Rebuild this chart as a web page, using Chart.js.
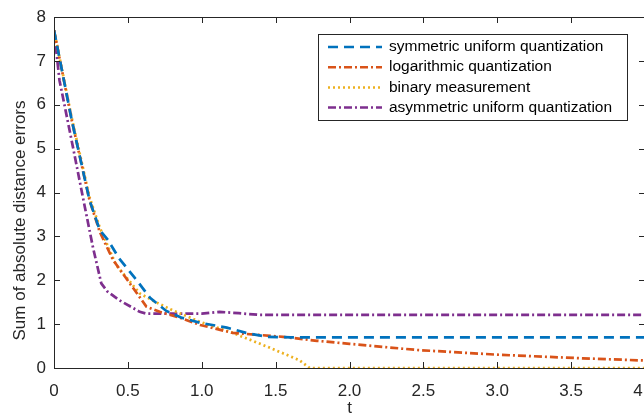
<!DOCTYPE html>
<html>
<head>
<meta charset="utf-8">
<script src="https://cdn.jsdelivr.net/npm/chart.js@4/dist/chart.umd.min.js"></script>
<style>
  html, body { margin: 0; padding: 0; overflow: hidden; background: #fff; }
</style>
</head>
<body>
<canvas id="chart" width="660" height="420"></canvas>
<script>
// Series (t, error)
const symT = [0, 0.12, 0.18, 0.24, 0.31, 0.365, 0.44, 0.56, 0.65, 0.76, 0.86, 0.99, 1.17, 1.3, 1.44, 1.6, 4];
const symV = [7.7, 5.65, 4.74, 3.83, 3.14, 2.92, 2.5, 2.0, 1.6, 1.3, 1.15, 1.03, 0.92, 0.8, 0.71, 0.7, 0.7];

const logT = [0, 0.12, 0.18, 0.24, 0.31, 0.4, 0.53, 0.625, 0.715, 0.85, 0.99, 1.21, 1.55, 1.78, 2.0, 2.46, 3.02, 3.58, 4];
const logV = [7.7, 5.65, 4.74, 3.83, 3.1, 2.46, 1.85, 1.4, 1.28, 1.15, 0.98, 0.8, 0.71, 0.62, 0.55, 0.41, 0.3, 0.22, 0.17];

const binT = [0, 0.12, 0.18, 0.24, 0.31, 0.42, 0.58, 0.69, 0.8, 0.99, 1.21, 1.44, 1.66, 1.73, 4];
const binV = [7.7, 5.7, 4.8, 3.9, 3.2, 2.35, 1.7, 1.5, 1.32, 1.05, 0.8, 0.49, 0.18, 0.0, 0.0];

const asymT = [0, 0.037, 0.128, 0.195, 0.263, 0.32, 0.36, 0.44, 0.58, 0.625, 0.8, 1.0, 1.12, 1.25, 1.39, 4];
const asymV = [7.7, 6.56, 5.04, 3.9, 2.76, 1.93, 1.75, 1.55, 1.28, 1.24, 1.24, 1.24, 1.28, 1.25, 1.21, 1.21];

const seriesNames = ['symmetric uniform quantization', 'logarithmic quantization', 'binary measurement', 'asymmetric uniform quantization'];
const seriesColors = ['#0072BD', '#D95319', '#EDB120', '#7E2F8E'];
const seriesDash = [[10, 6], [8, 3, 2, 3], [2, 3], [8, 3, 2, 3]];

const yTitle = 'Sum of absolute distance errors';
const axisColor = '#262626';
const font = 'Liberation Sans, Arial, Helvetica, sans-serif';

function pts(ts, vs) {
  return ts.map((t, i) => ({ x: t, y: vs[i] }));
}

const allSeries = [pts(symT, symV), pts(logT, logV), pts(binT, binV), pts(asymT, asymV)];

// box with inward ticks on all four sides, y title and legend
const boxPlugin = {
  id: 'box',
  afterDraw(chart) {
    const ctx = chart.ctx;
    const a = chart.chartArea;
    const xs = chart.scales.x, ys = chart.scales.y;
    ctx.save();
    ctx.strokeStyle = axisColor;
    ctx.lineWidth = 1;
    ctx.strokeRect(a.left + 0.5, a.top + 0.5, a.right - a.left, a.bottom - a.top);
    ctx.beginPath();
    xs.ticks.forEach(t => {
      const px = Math.round(xs.getPixelForValue(t.value)) + 0.5;
      ctx.moveTo(px, a.bottom); ctx.lineTo(px, a.bottom - 6);
      ctx.moveTo(px, a.top); ctx.lineTo(px, a.top + 6);
    });
    ys.ticks.forEach(t => {
      const py = Math.round(ys.getPixelForValue(t.value)) + 0.5;
      ctx.moveTo(a.left, py); ctx.lineTo(a.left + 6, py);
      ctx.moveTo(a.right, py); ctx.lineTo(a.right - 6, py);
    });
    ctx.stroke();

    // y axis title, sits a bit below the plot centre in the original
    ctx.save();
    ctx.translate(20, (a.top + a.bottom) / 2 + 28);
    ctx.rotate(-Math.PI / 2);
    ctx.fillStyle = axisColor;
    ctx.font = '17px ' + font;
    ctx.textAlign = 'center';
    ctx.textBaseline = 'middle';
    ctx.fillText(yTitle, 0, 0);
    ctx.restore();

    // legend
    const lx = 318, ly = 34, lw = 309, lh = 86;
    ctx.fillStyle = '#fff';
    ctx.fillRect(lx, ly, lw, lh);
    ctx.strokeStyle = '#262626';
    ctx.strokeRect(lx + 0.5, ly + 0.5, lw, lh);
    ctx.font = '15.5px ' + font;
    ctx.textBaseline = 'middle';
    seriesNames.forEach((name, i) => {
      const yy = ly + 13 + i * 20.2;
      ctx.strokeStyle = seriesColors[i];
      ctx.lineWidth = 2.5;
      ctx.setLineDash(seriesDash[i]);
      ctx.beginPath();
      ctx.moveTo(lx + 10, yy); ctx.lineTo(lx + 64, yy);
      ctx.stroke();
      ctx.setLineDash([]);
      ctx.fillStyle = '#000';
      ctx.fillText(name, lx + 71, yy);
    });
    ctx.restore();
  }
};

new Chart(document.getElementById('chart'), {
  type: 'line',
  data: {
    datasets: allSeries.map((d, i) => ({
      label: seriesNames[i],
      data: d,
      borderColor: seriesColors[i],
      borderWidth: 2.7,
      borderDash: seriesDash[i],
      pointRadius: 0,
      tension: 0,
      fill: false
    }))
  },
  options: {
    responsive: false,
    animation: false,
    devicePixelRatio: 1,
    layout: { padding: { top: 17, right: 15, left: 0, bottom: 0 } },
    plugins: { legend: { display: false }, tooltip: { enabled: false } },
    scales: {
      x: {
        type: 'linear',
        min: 0, max: 4,
        grid: { drawOnChartArea: false, drawTicks: false },
        border: { display: false },
        ticks: { stepSize: 0.5, padding: 13, color: axisColor, font: { family: font, size: 17 }, maxRotation: 0 },
        title: { display: true, text: 't', color: axisColor, font: { family: font, size: 17 }, padding: { top: 0, bottom: 1 } },
        afterFit(s) { s.height = 52; s.paddingLeft = 0; s.paddingRight = 0; }
      },
      y: {
        min: 0, max: 8,
        grid: { drawOnChartArea: false, drawTicks: false },
        border: { display: false },
        ticks: { stepSize: 1, padding: 8, color: axisColor, font: { family: font, size: 17 } },
        afterFit(s) { s.width = 54; s.paddingTop = 0; s.paddingBottom = 0; }
      }
    }
  },
  plugins: [boxPlugin]
});
</script>
</body>
</html>
